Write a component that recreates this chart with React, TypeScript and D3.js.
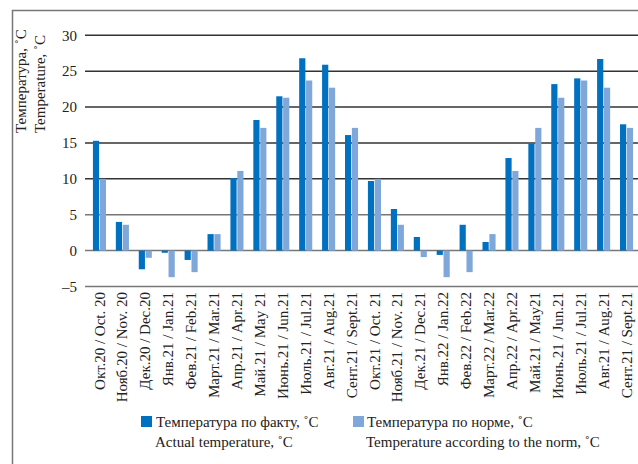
import React from 'react';
import * as d3 from 'd3';

const months = [
  'Окт.20 / Oct. 20', 'Нояб.20 / Nov. 20', 'Дек.20 / Dec.20', 'Янв.21 / Jan.21',
  'Фев.21 / Feb.21', 'Март.21 / Mar.21', 'Апр.21 / Apr.21', 'Май.21 / May 21',
  'Июнь.21 / Jun.21', 'Июль.21 / Jul.21', 'Авг.21 / Aug.21', 'Сент.21 / Sept.21',
  'Окт.21 / Oct. 21', 'Нояб.21 / Nov. 21', 'Дек.21 / Dec.21', 'Янв.22 / Jan.22',
  'Фев.22 / Feb.22', 'Март.22 / Mar.22', 'Апр.22 / Apr.22', 'Май.21 / May21',
  'Июнь.21 / Jun.21', 'Июль.21 / Jul.21', 'Авг.21 / Aug.21', 'Сент.21 / Sept.21',
];

const actualTemp = [
  15.3, 4.0, -2.6, -0.3, -1.3, 2.3, 10.1, 18.2, 21.5, 26.8, 25.9, 16.1,
  9.7, 5.8, 1.9, -0.6, 3.6, 1.2, 12.9, 14.9, 23.2, 24.0, 26.7, 17.6,
];

const normTemp = [
  10.0, 3.6, -1.0, -3.7, -3.0, 2.3, 11.1, 17.1, 21.3, 23.7, 22.7, 17.1,
  10.0, 3.6, -0.9, -3.7, -3.0, 2.3, 11.1, 17.1, 21.3, 23.7, 22.7, 17.1,
];

const yTicks = [-5, 0, 5, 10, 15, 20, 25, 30];

const seriesKeys = ['actual', 'norm'];
const seriesColors = ['#0070c0', '#7fa7d9'];

const W = 638;
const H = 464;
const font = "'Liberation Serif', 'Times New Roman', serif";

export default function App() {
  // months repeat (Jun–Sep 21 twice), so band by index
  const idx = months.map((_, i) => String(i));

  const x0 = d3.scaleBand<string>()
    .domain(idx)
    .range([88, 638])
    .paddingInner(0.43)
    .paddingOuter(0.215);

  const x1 = d3.scaleBand<string>()
    .domain(seriesKeys)
    .range([0, x0.bandwidth()])
    .paddingInner(0.1);

  const y = d3.scaleLinear().domain([-5, 30]).range([286.5, 35.3]);

  const rows = months.map((m, i) => ({ key: idx[i], m, vals: [actualTemp[i], normTemp[i]] }));

  return (
    <svg width={W} height={H} style={{ position: 'absolute', left: 0, top: 0, background: '#fff', fontFamily: font }}>
      {/* frame */}
      <path d={`M12.5,${H} V10.5 H${W}`} fill="none" stroke="#777" strokeWidth={1.5} />

      {/* grid lines */}
      <g>
        {yTicks.map(t => (
          <line key={t} x1={85} x2={W} y1={y(t)} y2={y(t)}
            stroke={t <= 5 ? '#777' : '#333'} strokeWidth={1.5} />
        ))}
      </g>

      {/* y tick labels */}
      <g fontSize={15} fill="#222" textAnchor="end">
        {yTicks.map(t => (
          <text key={t} x={77} y={y(t)} dy="0.35em">{t < 0 ? `–${Math.abs(t)}` : t}</text>
        ))}
      </g>

      {/* y axis titles */}
      <g fontSize={15} fill="#222">
        <text transform="translate(26,133) rotate(-90)">Температура, ˚C</text>
        <text transform="translate(45,133) rotate(-90)">Temperature, ˚C</text>
      </g>

      {/* bars */}
      <g>
        {rows.map(r => (
          <g key={r.key} transform={`translate(${x0(r.key)},0)`}>
            {r.vals.map((v, k) => (
              <rect key={k}
                x={x1(seriesKeys[k])}
                y={y(Math.max(0, v))}
                width={x1.bandwidth()}
                height={Math.abs(y(v) - y(0))}
                fill={seriesColors[k]} />
            ))}
          </g>
        ))}
      </g>

      {/* x labels */}
      <g fontSize={15} fill="#222" textAnchor="end">
        {rows.map(r => (
          <text key={r.key}
            transform={`translate(${(x0(r.key) ?? 0) + x0.bandwidth() / 2},292) rotate(-90)`}
            dy="0.34em">{r.m}</text>
        ))}
      </g>

      {/* legend */}
      <g fontSize={15} fill="#222">
        <rect x={141} y={416} width={11} height={11} fill={seriesColors[0]} />
        <text x={156} y={427}>Температура по факту, ˚C</text>
        <text x={155} y={447}>Actual temperature, ˚C</text>
        <rect x={353} y={416} width={11} height={11} fill={seriesColors[1]} />
        <text x={367} y={427}>Температура по норме, ˚C</text>
        <text x={366} y={447}>Temperature according to the norm, ˚C</text>
      </g>
    </svg>
  );
}
